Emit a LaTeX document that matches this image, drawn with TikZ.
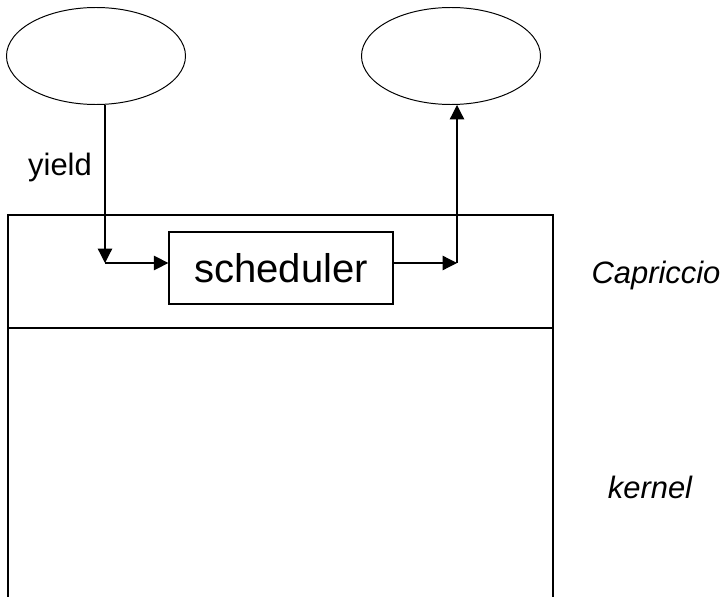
\documentclass[tikz,border=0pt]{standalone}
\usepackage{fontspec}
\setsansfont{Liberation Sans}
\usetikzlibrary{positioning, arrows.meta, shapes.geometric}

\begin{document}
\begin{tikzpicture}[
    >={Triangle[length=0.36cm, width=0.36cm]},
    every node/.style={font=\sffamily},
    thread/.style={
        draw, ellipse, minimum width=4.475cm, minimum height=2.425cm,
        inner sep=0pt, line width=0.7pt
    },
    layer/.style={
        draw, rectangle, minimum width=13.625cm, inner sep=0pt, line width=0.9pt
    },
    label/.style={font=\sffamily\fontsize{22}{26}\selectfont},
    flow/.style={->, line width=0.9pt},
]
\useasboundingbox (0, 0) rectangle (18.125, -14.925);

% Threads (top)
\node[thread] (left) at (2.4, -1.4) {};
\node[thread] (right) at (11.275, -1.4) {};

% Layers
\node[layer, minimum height=2.825cm] (capr) at (7.0125, -6.7875) {};
\node[layer, minimum height=7cm] (kern) at (7.0125, -11.7) {};

% Scheduler
\node[draw, line width=0.9pt, minimum width=5.6cm, minimum height=1.8cm,
      inner sep=0pt, font=\sffamily\fontsize{28.5}{32}\selectfont] (sched)
    at (7.025, -6.7) {scheduler};

% Bends
\coordinate (inbend) at (2.625, -6.575);
\coordinate (outbend) at (11.425, -6.575);

% Labels
\node[label] (yield) at (1.5, -4.2) {yield};
\node[label, font=\sffamily\itshape\fontsize{22}{26}\selectfont] (caprlabel)
    at (16.4, -6.9) {Capriccio};
\node[label, font=\sffamily\itshape\fontsize{22}{26}\selectfont] (kernlabel)
    at (16.25, -12.175) {kernel};

% Arrows: yield -> scheduler -> next thread
\draw[flow] (inbend |- left.south) -- (inbend);
\draw[flow] (inbend) -- (sched.west |- inbend);
\draw[flow] (sched.east |- outbend) -- (outbend);
\draw[flow] (outbend) -- (outbend |- right.south);

\end{tikzpicture}
\end{document}
